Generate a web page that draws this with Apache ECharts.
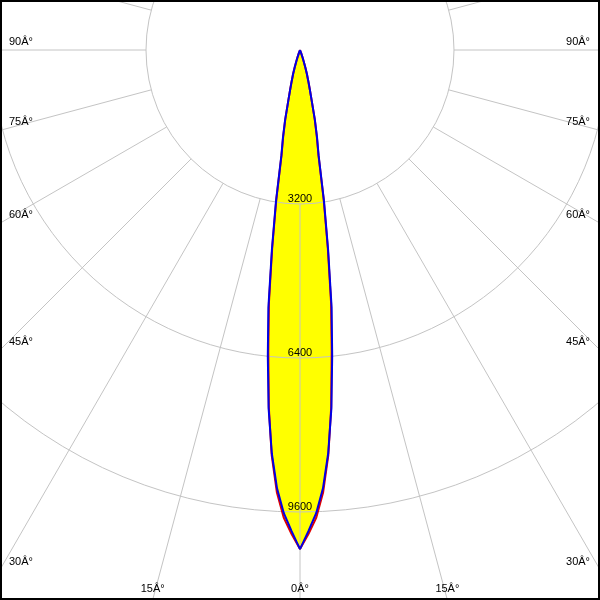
<!DOCTYPE html>
<html><head><meta charset="utf-8">
<script src="https://cdn.jsdelivr.net/npm/echarts@6/dist/echarts.min.js"></script>
<style>html,body{margin:0;padding:0;background:#fff}#c{width:600px;height:600px}</style>
</head><body><div id="c"></div>
<script>
// gamma angles (degrees from nadir)
const angles = [0,1,2,3,4,5,6,7,8,9,10,11,12,13,14,15,16,17,18,19,20,22,25,30,45,60,75,90,105,120,135,150,165,180];
// C90-C270 plane (blue), cd
const intensityBlue = [10370,10000,9630,9120,8400,7480,6400,5390,4200,3200,2230,1860,1490,1080,840,660,520,380,250,150,70,0,0,0,0,0,0,0,0,0,0,0,0,0];
// C0-C180 plane (red), cd
const intensityRed  = [10370,10060,9720,9200,8440,7440,6300,5300,4150,3150,2200,1830,1470,1080,840,660,520,380,250,150,70,0,0,0,0,0,0,0,0,0,0,0,0,0];
const radiusTicks = [3200, 6400, 9600];
const angleLabelDegrees = [0, 15, 30, 45, 60, 75, 90];
const angleLabelSuffix = 'Â°';

const CX = 300, CY = 50, W = 600, H = 600;
const FONT = '11px "Liberation Sans", Arial, sans-serif';
const PX_PER_TICK = 154;           // pixel radius of the first ring
const DATA_MAX = 12800;            // data polar extent (beyond the lobe peak)

function lobe(vals) {
  const pts = [];
  for (let i = angles.length - 1; i >= 0; i--) pts.push([vals[i], 360 - angles[i]]);
  for (let i = 1; i < angles.length; i++) pts.push([vals[i], angles[i]]);
  return pts;
}

function angleLabels() {
  const g = [];
  angleLabelDegrees.forEach(d => {
    const r = d * Math.PI / 180;
    const dx = Math.sin(r), dy = Math.cos(r);
    const sides = d === 0 ? [1] : [1, -1];
    sides.forEach(s => {
      let bx = null;
      if (dy > 1e-9) {
        const t = (H - CY) / dy;
        const x = CX + s * t * dx;
        if (x >= 0 && x <= W) bx = x;
      }
      let style;
      if (bx !== null) {
        style = { x: bx, y: 589, align: 'center', verticalAlign: 'middle' };
      } else {
        const t = (W - CX) / dx;
        const y = CY + t * dy;
        style = s > 0 ? { x: 590, y: y - 8, align: 'right', verticalAlign: 'middle' }
                      : { x: 9, y: y - 8, align: 'left', verticalAlign: 'middle' };
      }
      g.push({ type: 'text', z: 20, style: Object.assign(style, { text: d + angleLabelSuffix, font: FONT, fill: '#000' }) });
    });
  });
  return g;
}

const ringMax = radiusTicks[radiusTicks.length - 1];
const gridColor = '#c4c4c4';
const chart = echarts.init(document.getElementById('c'), null, { renderer: 'canvas' });
chart.setOption({
  animation: false,
  backgroundColor: '#fff',
  polar: [
    { center: [CX, CY], radius: [PX_PER_TICK, 900] },
    { center: [CX, CY], radius: PX_PER_TICK * ringMax / radiusTicks[0] },
    { center: [CX, CY], radius: PX_PER_TICK * DATA_MAX / radiusTicks[0] }
  ],
  angleAxis: [
    { polarIndex: 0, type: 'value', min: 0, max: 360, interval: 15, startAngle: 270, clockwise: false, z: 2,
      axisLine: { show: false }, axisTick: { show: false }, axisLabel: { show: false },
      splitLine: { show: true, lineStyle: { color: gridColor, width: 1 } } },
    { polarIndex: 1, type: 'value', min: 0, max: 360, startAngle: 270, clockwise: false, show: false },
    { polarIndex: 2, type: 'value', min: 0, max: 360, startAngle: 270, clockwise: false, show: false }
  ],
  radiusAxis: [
    { polarIndex: 0, type: 'value', min: 0, max: 1, show: false },
    { polarIndex: 1, type: 'value', min: 0, max: ringMax, interval: radiusTicks[0], z: 2,
      axisLine: { show: false }, axisTick: { show: false },
      splitLine: { show: true, lineStyle: { color: gridColor, width: 1 } },
      axisLabel: { showMinLabel: false, margin: 0, rotate: 0, align: 'center', verticalAlign: 'bottom',
        color: '#000', fontSize: 11, fontFamily: '"Liberation Sans", Arial, sans-serif',
        formatter: v => String(v) } },
    { polarIndex: 2, type: 'value', min: 0, max: DATA_MAX, show: false }
  ],
  series: [
    { type: 'line', coordinateSystem: 'polar', polarIndex: 2, data: lobe(intensityBlue), symbol: 'none', z: 1,
      lineStyle: { width: 0, opacity: 0 }, areaStyle: { color: '#ffff00', opacity: 1 }, silent: true },
    { type: 'line', coordinateSystem: 'polar', polarIndex: 2, data: lobe(intensityRed), symbol: 'none', z: 3,
      lineStyle: { width: 2, color: '#e00000' }, silent: true },
    { type: 'line', coordinateSystem: 'polar', polarIndex: 2, data: lobe(intensityBlue), symbol: 'none', z: 4,
      lineStyle: { width: 2, color: '#0000e6' }, silent: true }
  ],
  graphic: angleLabels().concat([
    { type: 'rect', z: 30, shape: { x: 1, y: 1, width: 598, height: 598 }, style: { fill: 'none', stroke: '#000', lineWidth: 2 } }
  ])
});
</script></body></html>
